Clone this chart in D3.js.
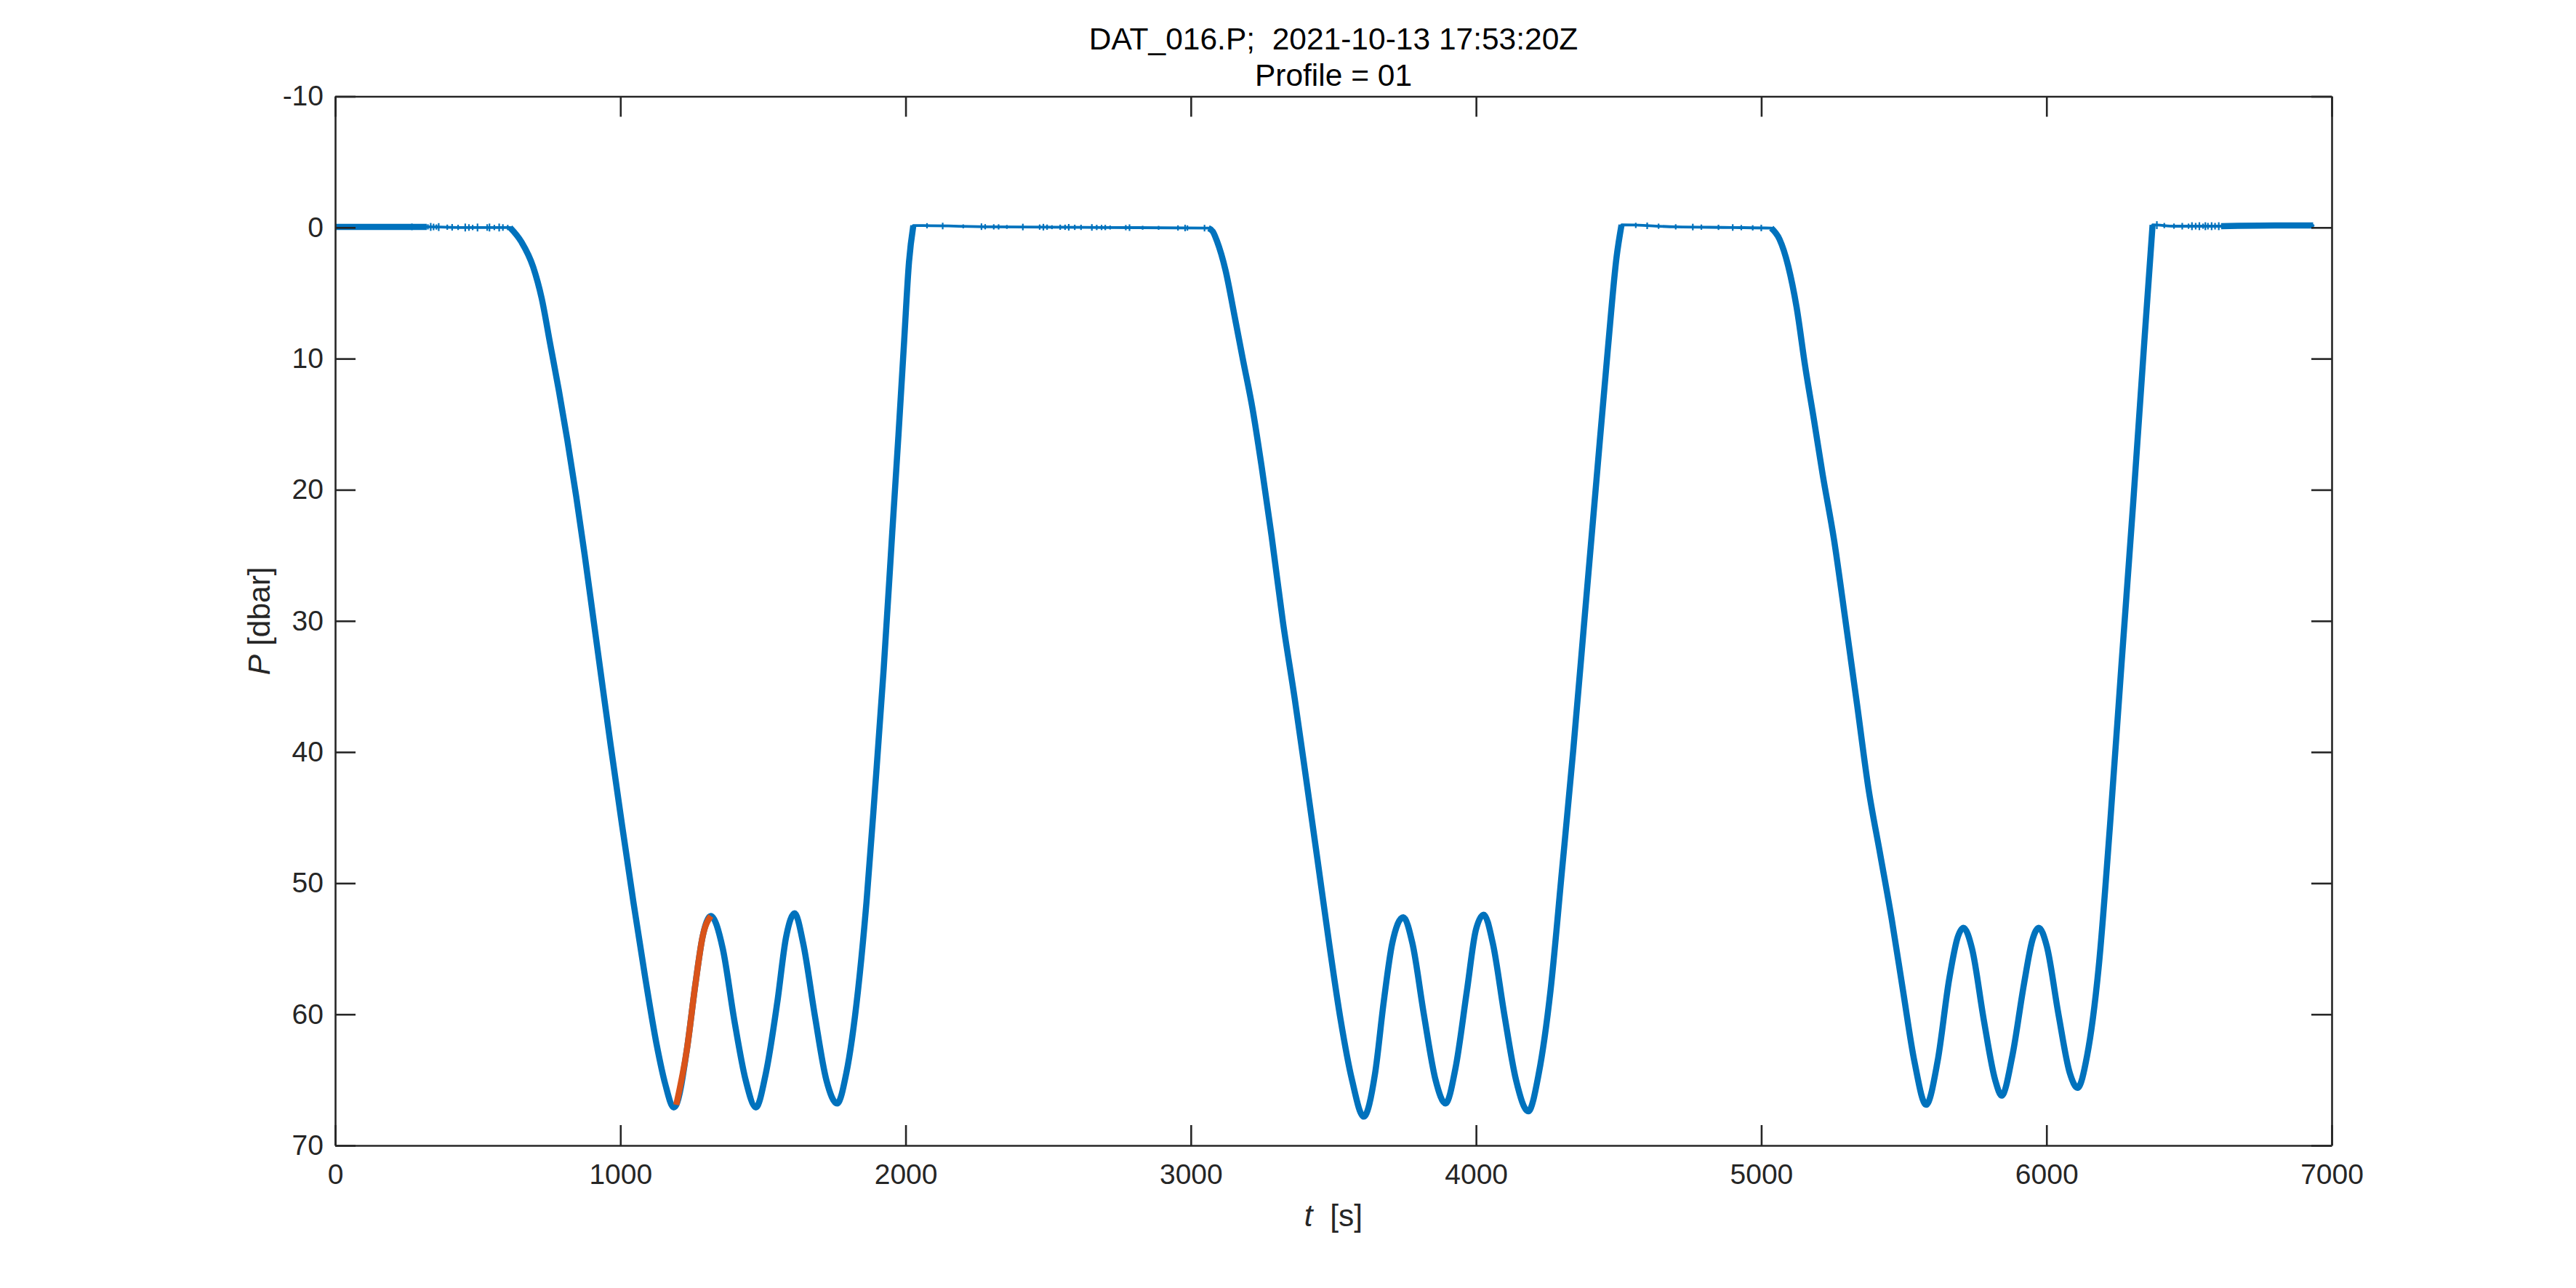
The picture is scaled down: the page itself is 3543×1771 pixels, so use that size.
<!DOCTYPE html>
<html>
<head>
<meta charset="utf-8">
<script src="https://cdn.jsdelivr.net/npm/d3@7"></script>
<style>
  html, body { margin: 0; padding: 0; background: #fff; }
  svg { display: block; }
  text { font-family: "Liberation Sans", Arial, Helvetica, sans-serif; }
</style>
</head>
<body>
<svg id="chart" width="3543" height="1771"></svg>
<script>
// ---------------- data ----------------
const titleLines = ["DAT_016.P;  2021-10-13 17:53:20Z", "Profile = 01"];
const xTicks = [0, 1000, 2000, 3000, 4000, 5000, 6000, 7000];
const yTicks = [-10, 0, 10, 20, 30, 40, 50, 60, 70];

// time [s]
const tSec = [
  0, 321, 450, 613,
  653, 694, 724, 754, 784, 814, 845, 875, 905, 935, 966, 1006, 1046, 1087, 1127, 1157, 1187,
  1196, 1233, 1263, 1288, 1317,
  1359, 1399, 1439, 1475, 1510, 1550, 1581, 1611, 1641, 1681, 1722, 1760, 1792, 1833, 1863,
  1893, 1923, 1953, 1975, 1995, 2012, 2027,
  2300, 2700, 3062,
  3077, 3091, 3122, 3152, 3182, 3217, 3248, 3283, 3323, 3364, 3404, 3444, 3485, 3525, 3565, 3606,
  3646, 3676, 3706, 3745, 3777, 3817, 3858, 3893, 3928, 3968, 3999, 4027, 4059, 4099, 4140, 4183,
  4220, 4261, 4301, 4341, 4382, 4422, 4462, 4493, 4510,
  4700, 4900, 5035,
  5064, 5094, 5124, 5154, 5185, 5215, 5255, 5296, 5336, 5376, 5417, 5457, 5497, 5537, 5578,
  5618, 5659, 5689, 5709, 5739, 5780, 5820, 5843, 5880, 5921, 5951, 5973, 6001, 6042, 6082, 6109,
  6142, 6183, 6223, 6263, 6304, 6344, 6372,
  6450, 6612, 6800, 6935
];
// pressure [dbar]
const pDbar = [
  -0.05, -0.05, 0.0, 0.0,
  1.1, 3.0, 5.4, 8.9, 12.4, 16.2, 20.5, 25.0, 29.8, 34.6, 39.5, 45.6, 51.5, 57.2, 62.3, 65.3, 67.1,
  66.9, 62.7, 57.7, 54.1, 52.5,
  55.0, 60.4, 65.0, 67.1, 64.5, 59.1, 54.1, 52.3, 54.6, 60.0, 65.0, 66.8, 64.5, 58.2, 51.4,
  42.8, 33.7, 23.3, 15.8, 8.6, 2.6, -0.15,
  -0.05, 0.0, 0.05,
  0.3, 1.0, 3.3, 6.6, 10.0, 13.9, 18.2, 23.5, 30.1, 35.9, 42.0, 48.2, 54.6, 60.4, 65.0, 67.8,
  64.5, 59.1, 54.6, 52.6, 54.6, 60.0, 65.0, 66.8, 64.1, 58.2, 53.6, 52.4, 54.6, 60.0, 65.0, 67.4,
  64.5, 58.2, 49.1, 39.8, 29.4, 19.3, 9.3, 2.2, -0.2,
  -0.05, 0.0, 0.05,
  0.9, 2.9, 6.1, 10.6, 14.7, 18.8, 23.8, 30.1, 36.4, 42.8, 47.8, 52.7, 58.2, 63.6, 66.9,
  63.6, 57.3, 54.1, 53.4, 55.0, 60.4, 65.0, 66.2, 63.2, 57.7, 54.3, 53.4, 54.8, 60.0, 64.5, 65.6,
  63.2, 56.4, 45.5, 33.3, 21.0, 8.4, -0.2,
  -0.1, -0.1, -0.15, -0.15
];

// time spans drawn with the heavy line, and the selected profile (orange)
const heavySpans = [[0, 321], [613, 2027], [3062, 4510], [5035, 6372], [6612, 6935]];
const profileSpan = [1196, 1317];

// small surface-noise spikes on the light parts of the record: time [s], half-height [dbar]
const spikeT = [
  269, 325, 335, 345, 355, 363, 393, 410, 431, 456, 469, 482, 499, 533, 541, 558, 575, 588, 605,
  2075, 2130, 2202, 2266, 2279, 2309, 2326, 2355, 2411, 2470, 2483, 2496, 2513, 2542, 2559, 2572,
  2593, 2615, 2653, 2670, 2687, 2700, 2717, 2772, 2785, 2831, 2887, 2955, 2980, 2988, 3048,
  4560, 4600, 4640, 4700, 4760, 4790, 4850, 4900, 4930, 4970, 5000,
  6387, 6413, 6447, 6476, 6498, 6510, 6523, 6536, 6549, 6557, 6566, 6579, 6591, 6604
];
const spikeAmp = [
  0.25, 0.2, 0.3, 0.25, 0.2, 0.3, 0.2, 0.25, 0.2, 0.3, 0.25, 0.2, 0.3, 0.25, 0.3, 0.2, 0.3, 0.25, 0.2,
  0.2, 0.25, 0.15, 0.25, 0.2, 0.2, 0.2, 0.15, 0.25, 0.2, 0.25, 0.2, 0.15, 0.2, 0.2, 0.25,
  0.2, 0.2, 0.25, 0.2, 0.2, 0.2, 0.15, 0.2, 0.25, 0.15, 0.15, 0.2, 0.25, 0.2, 0.25,
  0.2, 0.25, 0.2, 0.2, 0.25, 0.2, 0.2, 0.25, 0.2, 0.2, 0.25,
  0.3, 0.2, 0.2, 0.25, 0.2, 0.3, 0.25, 0.3, 0.2, 0.3, 0.25, 0.3, 0.25, 0.3
];

// ---------------- layout ----------------
const W = 3543, H = 1771;
const plot = { left: 461, right: 3207, top: 132.5, bottom: 1575 };
const axisColor = "#262626";
const blue = "#0072BD", orange = "#D95319";

const svg = d3.select("#chart");
svg.append("rect").attr("width", W).attr("height", H).attr("fill", "#fff");

const x = d3.scaleLinear().domain([0, 7000]).range([plot.left, plot.right]);
const y = d3.scaleLinear().domain([-10, 70]).range([plot.top, plot.bottom]);

const data = tSec.map((t, i) => ({ t, p: pDbar[i] }));

svg.append("defs").append("clipPath").attr("id", "clip")
  .append("rect")
  .attr("x", plot.left).attr("y", plot.top)
  .attr("width", plot.right - plot.left).attr("height", plot.bottom - plot.top);

const line = d3.line().x(d => x(d.t)).y(d => y(d.p)).curve(d3.curveMonotoneX);

const g = svg.append("g").attr("clip-path", "url(#clip)");

// light full record
g.append("path").datum(data)
  .attr("d", line).attr("fill", "none")
  .attr("stroke", blue).attr("stroke-width", 3.8)
  .attr("stroke-linejoin", "round").attr("stroke-linecap", "round");

// noise spikes
const pAt = t => {
  const i = d3.bisector(d => d.t).left(data, t);
  const a = data[Math.max(0, i - 1)], b = data[Math.min(data.length - 1, i)];
  return b.t === a.t ? a.p : a.p + (b.p - a.p) * (t - a.t) / (b.t - a.t);
};
g.selectAll("line.spike").data(spikeT.map((t, i) => ({ t, a: spikeAmp[i] })))
  .join("line").attr("class", "spike")
  .attr("x1", d => x(d.t)).attr("x2", d => x(d.t))
  .attr("y1", d => y(pAt(d.t) - d.a)).attr("y2", d => y(pAt(d.t) + d.a))
  .attr("stroke", blue).attr("stroke-width", 2.2);

// heavy spans
heavySpans.forEach(([a, b]) => {
  g.append("path").datum(data.filter(d => d.t >= a && d.t <= b))
    .attr("d", line).attr("fill", "none")
    .attr("stroke", blue).attr("stroke-width", 8.5)
    .attr("stroke-linejoin", "round").attr("stroke-linecap", "butt");
});

// selected profile
g.append("path").datum(data.filter(d => d.t >= profileSpan[0] && d.t <= profileSpan[1]))
  .attr("d", line).attr("fill", "none")
  .attr("stroke", orange).attr("stroke-width", 8.5)
  .attr("stroke-linejoin", "round").attr("stroke-linecap", "butt");

// ---------------- axes ----------------
const tickLen = 28;
const tickFont = 39;
const fmt = d => String(d);
function styleAxis(sel) {
  sel.select(".domain").attr("stroke", axisColor).attr("stroke-width", 2.6);
  sel.selectAll(".tick line").attr("stroke", axisColor).attr("stroke-width", 2.6);
  sel.selectAll(".tick text").attr("fill", axisColor)
    .style("font-size", tickFont + "px").attr("font-family", "Liberation Sans, Arial, Helvetica, sans-serif");
}

svg.append("g").attr("transform", `translate(0,${plot.bottom})`)
  .call(d3.axisBottom(x).tickValues(xTicks).tickFormat(fmt)
    .tickSizeInner(-tickLen).tickSizeOuter(0).tickPadding(25))
  .call(styleAxis);

svg.append("g").attr("transform", `translate(0,${plot.top})`)
  .call(d3.axisTop(x).tickValues(xTicks).tickFormat("")
    .tickSizeInner(-tickLen).tickSizeOuter(0))
  .call(styleAxis);

svg.append("g").attr("transform", `translate(${plot.left},0)`)
  .call(d3.axisLeft(y).tickValues(yTicks).tickFormat(fmt)
    .tickSizeInner(-tickLen).tickSizeOuter(0).tickPadding(16))
  .call(styleAxis);

svg.append("g").attr("transform", `translate(${plot.right},0)`)
  .call(d3.axisRight(y).tickValues(yTicks).tickFormat("")
    .tickSizeInner(-tickLen).tickSizeOuter(0))
  .call(styleAxis);

// ---------------- titles & labels ----------------
const cx = (plot.left + plot.right) / 2;
const labelFont = 42.5;

svg.append("text").attr("x", cx).attr("y", 68)
  .attr("text-anchor", "middle").attr("fill", "#000")
  .style("font-size", labelFont + "px").style("white-space", "pre")
  .attr("xml:space", "preserve")
  .text(titleLines[0]);
svg.append("text").attr("x", cx).attr("y", 118)
  .attr("text-anchor", "middle").attr("fill", "#000")
  .style("font-size", labelFont + "px")
  .text(titleLines[1]);

const xl = svg.append("text").attr("x", cx).attr("y", 1686)
  .attr("text-anchor", "middle").attr("fill", axisColor)
  .style("font-size", labelFont + "px").attr("xml:space", "preserve");
xl.append("tspan").style("font-style", "italic").text("t");
xl.append("tspan").text("  [s]");

const yl = svg.append("text")
  .attr("transform", `translate(371,${(plot.top + plot.bottom) / 2}) rotate(-90)`)
  .attr("text-anchor", "middle").attr("fill", axisColor)
  .style("font-size", labelFont + "px").attr("xml:space", "preserve");
yl.append("tspan").style("font-style", "italic").text("P");
yl.append("tspan").text(" [dbar]");
</script>
</body>
</html>
